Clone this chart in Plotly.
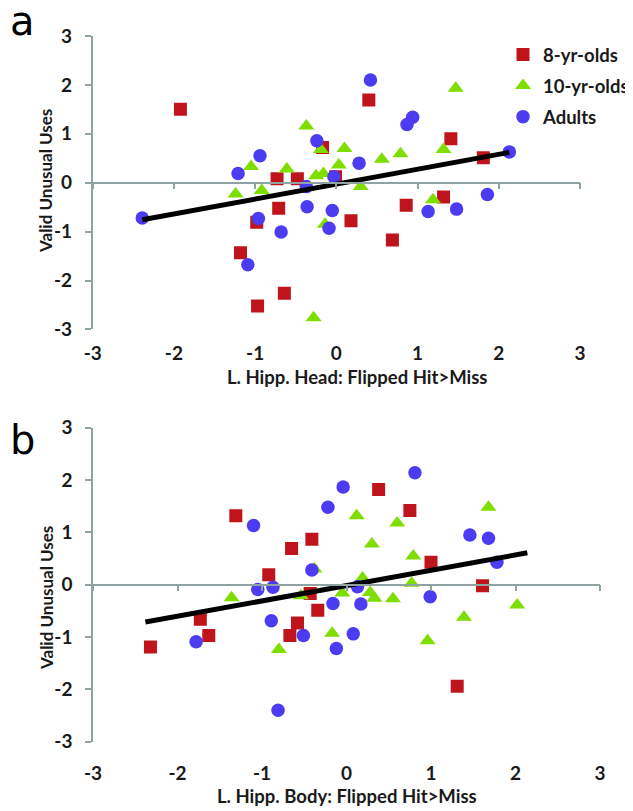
import plotly.graph_objects as go

# ---------------- data ----------------
# Panel a: L. Hipp. Head
a8_x = [-1.92, -0.17, -0.73, -0.48, -0.01, 0.40, 1.41, 1.81, -0.71, -0.98, 0.18, -1.18, -0.64, -0.97, 1.32, 0.86, 0.69]
a8_y = [1.50, 0.72, 0.08, 0.08, 0.12, 1.69, 0.90, 0.51, -0.52, -0.81, -0.78, -1.43, -2.26, -2.52, -0.29, -0.46, -1.17]
a10_x = [-0.37, -0.19, 0.10, -1.05, -0.61, -0.25, -0.16, 0.03, 1.47, 1.32, 0.79, 0.56, 0.30, -1.24, -0.92, -0.14, -0.28, 1.19]
a10_y = [1.16, 0.68, 0.70, 0.33, 0.28, 0.14, 0.19, 0.36, 1.93, 0.68, 0.59, 0.48, -0.08, -0.23, -0.16, -0.85, -2.76, -0.35]
aad_x = [-0.24, -0.94, -1.21, -0.03, 0.28, 0.42, 0.94, 0.87, 2.13, -0.37, -2.39, -0.96, -0.36, -0.05, -0.09, -0.68, -1.09, 1.13, 1.48, 1.86]
aad_y = [0.86, 0.55, 0.19, 0.12, 0.40, 2.10, 1.34, 1.19, 0.63, -0.08, -0.72, -0.73, -0.49, -0.57, -0.93, -1.01, -1.68, -0.59, -0.54, -0.24]
trend_a_x = [-2.39, 2.13]
trend_a_slope, trend_a_intercept = 0.305, -0.03

# Panel b: L. Hipp. Body
b8_x = [-1.31, -0.41, -0.65, -0.92, -0.43, 0.38, 0.75, 1.00, 1.61, -2.32, -1.73, -1.63, -0.58, -0.67, -0.34, 1.31]
b8_y = [1.32, 0.87, 0.69, 0.19, -0.17, 1.82, 1.42, 0.43, -0.02, -1.19, -0.66, -0.97, -0.73, -0.97, -0.49, -1.94]
b10_x = [0.12, -0.38, -1.36, 0.30, 0.19, 1.68, 0.60, 0.79, 0.77, -0.05, 0.28, 0.55, 0.33, -0.80, -0.54, -0.17, 2.02, 1.39, 0.96]
b10_y = [1.32, 0.30, -0.25, 0.78, 0.13, 1.48, 1.18, 0.55, 0.03, -0.16, -0.15, -0.27, -0.26, -1.24, -0.21, -0.93, -0.39, -0.62, -1.07]
bad_x = [-1.10, -0.04, -0.22, -0.41, -1.05, -0.87, 0.13, 0.81, 1.46, 1.68, 1.78, 0.99, -1.78, -0.89, -0.51, -0.16, 0.08, -0.12, 0.17, -0.81]
bad_y = [1.13, 1.87, 1.48, 0.28, -0.09, -0.05, -0.04, 2.14, 0.95, 0.89, 0.43, -0.23, -1.09, -0.69, -0.97, -0.36, -0.94, -1.22, -0.37, -2.40]
trend_b_x = [-2.38, 2.14]
trend_b_slope, trend_b_intercept = 0.293, -0.017

tick_vals = [-3, -2, -1, 0, 1, 2, 3]
tick_text = ["-3", "-2", "-1", "0", "1", "2", "3"]
series_names = ["8-yr-olds", "10-yr-olds", "Adults"]

# ---------------- styling ----------------
# the page body has an 8px default margin, so the figure starts 8px in from the window corner
OFF = 8
WIN_W, WIN_H = 633, 811
W, H = WIN_W - OFF, WIN_H - OFF
RED, GREEN, BLUE = "#C0141C", "#7FDD00", "#4B3CF2"
AXC = "#8FA3A3"
FONT = "Lato"
TXT = "#1a1a1a"

def px_x(p):
    return (p - OFF) / W

def px_y(p):
    return 1 - (p - OFF) / H

dom_a_x = [px_x(92.7), px_x(580)]
dom_a_y = [px_y(329.4), px_y(36)]
dom_b_x = [px_x(93), px_x(600)]
dom_b_y = [px_y(741.6), px_y(427.8)]

fig = go.Figure()

def add_panel(xs, ys, xa, ya, show_legend):
    styles = [("square", RED, 13), ("triangle-up", GREEN, 14), ("circle", BLUE, 13.5)]
    for name, (x, y), (sym, col, sz) in zip(series_names, zip(xs, ys), styles):
        fig.add_trace(go.Scatter(
            x=x, y=y, mode="markers", name=name, legendgroup=name,
            showlegend=show_legend, xaxis=xa, yaxis=ya,
            marker=dict(symbol=sym, color=col, size=sz, line=dict(width=0)),
        ))

add_panel([a8_x, a10_x, aad_x], [a8_y, a10_y, aad_y], "x", "y", True)
tx = trend_a_x
fig.add_trace(go.Scatter(x=tx, y=[trend_a_intercept + trend_a_slope * v for v in tx],
                         mode="lines", line=dict(color="black", width=5),
                         showlegend=False, xaxis="x", yaxis="y"))
add_panel([b8_x, b10_x, bad_x], [b8_y, b10_y, bad_y], "x2", "y2", False)
tx = trend_b_x
fig.add_trace(go.Scatter(x=tx, y=[trend_b_intercept + trend_b_slope * v for v in tx],
                         mode="lines", line=dict(color="black", width=5),
                         showlegend=False, xaxis="x2", yaxis="y2"))
# placeholder traces so the crossing (y=0) axes are drawn
fig.add_trace(go.Scatter(x=[None], y=[None], xaxis="x3", yaxis="y", showlegend=False, hoverinfo="skip"))
fig.add_trace(go.Scatter(x=[None], y=[None], xaxis="x4", yaxis="y2", showlegend=False, hoverinfo="skip"))

tickfont = dict(family=FONT, size=19, color=TXT, weight="bold")

def xlab_axis(dom, anchor, standoff):
    return dict(domain=dom, anchor=anchor, range=[-3, 3], tickvals=tick_vals, ticktext=tick_text,
                showline=False, ticks="", showgrid=False, zeroline=False, automargin=False,
                tickfont=tickfont, ticklabelstandoff=standoff, fixedrange=True)

def ylab_axis(dom, anchor):
    return dict(domain=dom, anchor=anchor, range=[-3, 3], tickvals=tick_vals, ticktext=tick_text,
                showline=True, linecolor=AXC, linewidth=1.5, ticks="outside", ticklen=6,
                tickcolor=AXC, tickwidth=1.5, showgrid=False, zeroline=False, automargin=False,
                tickfont=tickfont, ticklabelstandoff=9, fixedrange=True)

def cross_axis(over, dom_y):
    return dict(overlaying=over, anchor="free", position=(dom_y[0] + dom_y[1]) / 2,
                range=[-3, 3], tickvals=tick_vals, showticklabels=False, automargin=False,
                showline=True, linecolor=AXC, linewidth=1.5, ticks="outside", ticklen=6,
                tickcolor=AXC, tickwidth=1.5, showgrid=False, zeroline=False, fixedrange=True)

titlefont = dict(family=FONT, size=18.5, color=TXT, weight="bold")
yt_font = dict(family=FONT, size=17, color=TXT, weight="bold")
letter_font = dict(family="DejaVu Sans", size=40, color="black")

fig.update_layout(
    width=W, height=H,
    margin=dict(l=0, r=0, t=0, b=0, autoexpand=False),
    paper_bgcolor="white", plot_bgcolor="white",
    xaxis=xlab_axis(dom_a_x, "y", 11),
    yaxis=ylab_axis(dom_a_y, "x"),
    xaxis2=xlab_axis(dom_b_x, "y2", 18),
    yaxis2=ylab_axis(dom_b_y, "x2"),
    xaxis3=cross_axis("x", dom_a_y),
    xaxis4=cross_axis("x2", dom_b_y),
    legend=dict(x=px_x(503), y=px_y(36), xanchor="left", yanchor="top",
                font=dict(family=FONT, size=18.5, color=TXT, weight="bold"),
                bgcolor="rgba(0,0,0,0)", tracegroupgap=4, traceorder="grouped"),
    annotations=[
        dict(text="L. Hipp. Head: Flipped Hit>Miss", x=px_x(357), y=px_y(377), xref="paper", yref="paper",
             showarrow=False, font=titlefont, xanchor="center", yanchor="middle"),
        dict(text="L. Hipp. Body: Flipped Hit>Miss", x=px_x(347), y=px_y(796), xref="paper", yref="paper",
             showarrow=False, font=titlefont, xanchor="center", yanchor="middle"),
        dict(text="Valid Unusual Uses", x=px_x(46), y=px_y(181), xref="paper", yref="paper", textangle=-90,
             showarrow=False, font=yt_font, xanchor="center", yanchor="middle"),
        dict(text="Valid Unusual Uses", x=px_x(46), y=px_y(598), xref="paper", yref="paper", textangle=-90,
             showarrow=False, font=yt_font, xanchor="center", yanchor="middle"),
        dict(text="a", x=px_x(22), y=1, yshift=12, xref="paper", yref="paper",
             showarrow=False, font=letter_font, xanchor="center", yanchor="top"),
        dict(text="b", x=px_x(22), y=px_y(440), xref="paper", yref="paper",
             showarrow=False, font=letter_font, xanchor="center", yanchor="middle"),
    ],
)

fig.write_html("out.html")
